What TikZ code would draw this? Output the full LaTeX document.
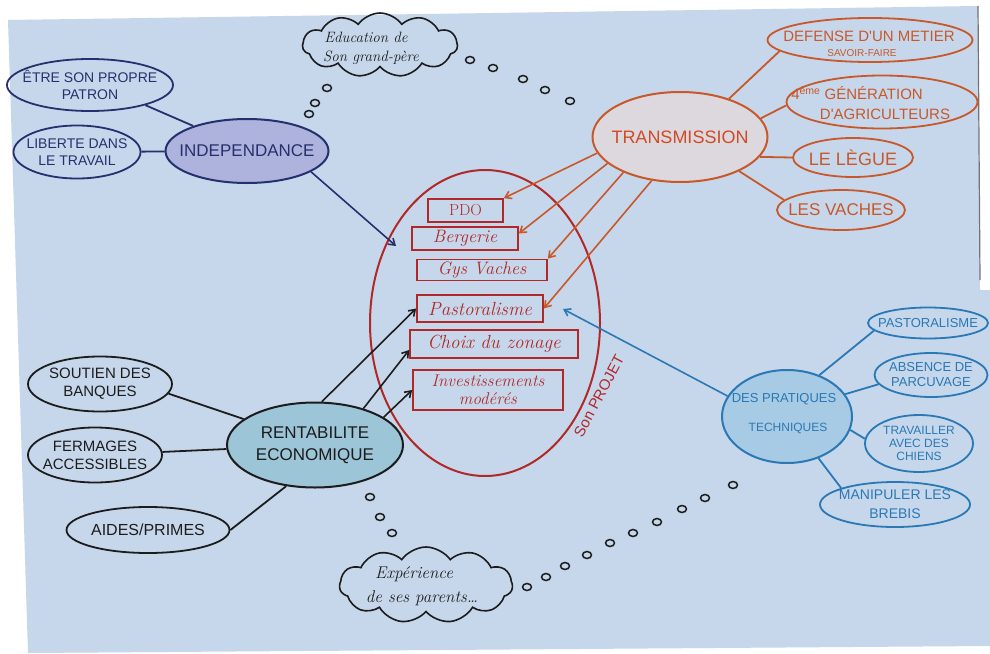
\documentclass[tikz,border=0pt]{standalone}
\usepackage{fontspec}
\newfontfamily\capsf{Liberation Sans}
\usetikzlibrary{shapes.geometric,shapes.symbols,arrows.meta}
\definecolor{paper}{HTML}{C6D7EB}
\definecolor{navy}{HTML}{26306E}
\definecolor{indfill}{HTML}{AEB3DD}
\definecolor{ink}{HTML}{1C1C1C}
\definecolor{rentfill}{HTML}{9DC5D8}
\definecolor{pred}{HTML}{B02828}
\definecolor{orng}{HTML}{C8582A}
\definecolor{transfill}{HTML}{DDD8DE}
\definecolor{tblue}{HTML}{2A78B4}
\definecolor{dpfill}{HTML}{A7CBE4}
\newcommand\fsz[2]{\fontsize{#1}{#2}\selectfont}
\tikzset{
 ell/.style={ellipse, inner sep=0pt, line width=2pt},
 leaf/.style={ellipse, inner sep=0pt, line width=1.8pt},
 lab/.style={inner sep=0pt, align=center},
 rbox/.style={rectangle, draw=pred, line width=1.7pt, inner sep=0pt},
 conn/.style={line width=1.8pt},
 arr/.style={line width=1.6pt, -{Straight Barb[length=6pt,width=8pt]}},
 bub/.style={ellipse, draw=ink, line width=1.5pt, minimum width=9pt, minimum height=7pt, inner sep=0pt},
 cloudn/.style={cloud, cloud puffs=11, cloud puff arc=110, cloud ignores aspect, draw=ink, line width=1.6pt, inner sep=0pt}
}
\begin{document}
\begin{tikzpicture}[x=1pt,y=-1pt]
\useasboundingbox (0,0) rectangle (990,653);
\fill[white] (0,0) rectangle (990,653);
\fill[paper] (8,20) -- (978,6) -- (980,290) -- (990,290) -- (990,646) -- (28,653) -- cycle;
\draw[line width=1.2pt, black!55] (978,6) -- (980,280);

% ---- Son projet ----
\node[ellipse, draw=pred, line width=2pt, minimum width=230pt, minimum height=306pt, inner sep=0pt] (proj) at (485,323) {};
\node[lab, text=pred, font=\capsf\fsz{15}{17}, rotate=62] (projt) at (599,396) {Son PROJET};

\node[rbox, minimum width=75pt, minimum height=23pt] (pdo) at (465.5,210.5) {};
\node[lab, text=pred, font=\fsz{16}{18}] (pdot) at (pdo) {PDO};
\node[rbox, minimum width=106pt, minimum height=23pt] (berg) at (465,238.5) {};
\node[lab, text=pred, font=\itshape\fsz{18}{20}] (bergt) at (berg) {Bergerie};
\node[rbox, minimum width=130pt, minimum height=21pt] (gys) at (482,270) {};
\node[lab, text=pred, font=\itshape\fsz{18}{20}] (gyst) at (gys) {Gys Vaches};
\node[rbox, minimum width=126pt, minimum height=27pt] (past) at (480,308.5) {};
\node[lab, text=pred, font=\itshape\fsz{19}{21}] (pastt) at (past) {Pastoralisme};
\node[rbox, minimum width=168pt, minimum height=28pt] (choix) at (494,344) {};
\node[lab, text=pred, font=\itshape\fsz{19}{21}] (choixt) at (choix) {Choix du zonage};
\node[rbox, minimum width=150pt, minimum height=40pt] (inv) at (488,390) {};
\node[lab, text=pred, font=\itshape\fsz{17}{18}] (invt) at (inv) {Investissements\\modérés};

% ---- Independance ----
\node[ell, draw=navy, fill=indfill, minimum width=163pt, minimum height=64pt] (ind) at (247,151) {};
\node[lab, text=navy, font=\capsf\fsz{17}{19}] (indt) at (ind) {INDEPENDANCE};
\node[leaf, draw=navy, minimum width=166pt, minimum height=52pt] (patron) at (90,85) {};
\node[lab, text=navy, font=\capsf\fsz{14}{17}] (patront) at (patron) {ÊTRE SON PROPRE\\PATRON};
\node[leaf, draw=navy, minimum width=127pt, minimum height=53pt] (lib) at (77,152) {};
\node[lab, text=navy, font=\capsf\fsz{14}{17}] (libt) at (lib) {LIBERTE DANS\\LE TRAVAIL};
\draw[conn, navy] (patron.340) -- (ind.155);
\draw[conn, navy] (lib) -- (ind);
\coordinate (indtip) at (396,246);
\draw[arr, navy] (ind.342) -- (indtip);

% ---- Rentabilite ----
\node[ell, draw=ink, fill=rentfill, minimum width=176pt, minimum height=85pt] (rent) at (315,445) {};
\node[lab, text=ink, font=\capsf\fsz{17}{22}] (rentt) at (rent) {RENTABILITE\\ECONOMIQUE};
\node[leaf, draw=ink, minimum width=144pt, minimum height=55pt] (sout) at (100,384) {};
\node[lab, text=ink, font=\capsf\fsz{15}{18}] (soutt) at (sout) {SOUTIEN DES\\BANQUES};
\node[leaf, draw=ink, minimum width=134pt, minimum height=55pt] (ferm) at (95,455) {};
\node[lab, text=ink, font=\capsf\fsz{15}{18}] (fermt) at (ferm) {FERMAGES\\ACCESSIBLES};
\node[leaf, draw=ink, minimum width=163pt, minimum height=46pt] (aides) at (148,530) {};
\node[lab, text=ink, font=\capsf\fsz{16}{18}] (aidest) at (aides) {AIDES/PRIMES};
\draw[conn, ink] (sout.352) -- (rent.160);
\draw[conn, ink] (ferm) -- (rent);
\draw[conn, ink] (aides.east) -- (rent.235);
\draw[arr, ink] (rent.81) -- (past.west);
\draw[arr, ink] (rent.37) -- ([yshift=-6pt]choix.west);
\draw[arr, ink] (rent.22) -- (inv.west);

% ---- Transmission ----
\node[ell, draw=orng, fill=transfill, minimum width=175pt, minimum height=90pt] (trans) at (680,137) {};
\node[lab, text=orng!85!red, font=\capsf\fsz{18}{20}] (transt) at (trans) {TRANSMISSION};
\node[leaf, draw=orng, minimum width=205pt, minimum height=44pt] (def) at (870,40) {};
\node[lab, text=orng, font=\capsf\fsz{15}{17}] (deft) at (869,36) {DEFENSE D'UN METIER};
\node[lab, text=orng, font=\capsf\fsz{10}{11}] (saft) at (862,53) {SAVOIR-FAIRE};
\node[leaf, draw=orng, minimum width=191pt, minimum height=53pt] (gen) at (882,102) {};
\node[lab, text=orng, font=\capsf\fsz{15}{17}] (gent) at (857,93) {4\textsuperscript{ème} GÉNÉRATION};
\node[lab, text=orng, font=\capsf\fsz{15}{17}] (agrt) at (885,114) {D'AGRICULTEURS};
\node[leaf, draw=orng, minimum width=120pt, minimum height=39pt] (legue) at (853,157.5) {};
\node[lab, text=orng, font=\capsf\fsz{18}{20}] (leguet) at (legue) {LE LÈGUE};
\node[leaf, draw=orng, minimum width=128pt, minimum height=40pt] (vach) at (841,210) {};
\node[lab, text=orng, font=\capsf\fsz{17}{19}] (vacht) at (vach) {LES VACHES};
\draw[conn, orng] (trans.38) -- (def.187);
\draw[conn, orng] (trans.13) -- (gen.182);
\draw[conn, orng] (trans.346) -- (legue.west);
\draw[conn, orng] (trans.330) -- (vach.170);
\draw[arr, orng] (trans.191) -- (pdo.north east);
\draw[arr, orng] (trans.200) -- ([yshift=5pt]berg.east);
\draw[arr, orng] (trans.212) -- (gys.north east);
\draw[arr, orng] (trans.237) -- (past.east);

% ---- Des pratiques techniques ----
\node[ell, draw=tblue, fill=dpfill, minimum width=130pt, minimum height=93pt] (dp) at (787,416.5) {};
\node[lab, text=tblue, font=\capsf\fsz{13}{15}] (dpt1) at (784,399) {DES PRATIQUES};
\node[lab, text=tblue, font=\capsf\fsz{12}{14}] (dpt2) at (788,428) {TECHNIQUES};
\node[leaf, draw=tblue, minimum width=120pt, minimum height=31pt] (p2) at (928,323) {};
\node[lab, text=tblue, font=\capsf\fsz{13}{15}] (p2t) at (p2) {PASTORALISME};
\node[leaf, draw=tblue, minimum width=113pt, minimum height=44pt] (abs) at (931,375) {};
\node[lab, text=tblue, font=\capsf\fsz{13}{15}] (abst) at (abs) {ABSENCE DE\\PARCUVAGE};
\node[leaf, draw=tblue, minimum width=108pt, minimum height=57pt] (trav) at (919,443.5) {};
\node[lab, text=tblue, font=\capsf\fsz{12}{13}] (travt) at (trav) {TRAVAILLER\\AVEC DES\\CHIENS};
\node[leaf, draw=tblue, minimum width=150pt, minimum height=45pt] (man) at (895,504.5) {};
\node[lab, text=tblue, font=\capsf\fsz{14}{19}] (mant) at (man) {MANIPULER LES\\BREBIS};
\draw[conn, tblue] (dp.52) -- (p2.188);
\draw[conn, tblue] (dp.21) -- (abs.190);
\draw[conn, tblue] (dp.348) -- (trav.175);
\draw[conn, tblue] (dp.307) -- (man.163);
\coordinate (dptip) at (563,309);
\draw[arr, tblue] (dp.161) -- (dptip);

% ---- Clouds ----
\node[cloudn, minimum width=155pt, minimum height=64pt] (edc) at (380,45) {};
\node[lab, text=ink, font=\itshape\fsz{15}{17}] (edt1) at (366,37) {Education de};
\node[lab, text=ink, font=\itshape\fsz{15}{17}] (edt2) at (371,58) {Son grand-père};
\node[cloudn, minimum width=173pt, minimum height=76pt] (exc) at (426,585) {};
\node[lab, text=ink, font=\itshape\fsz{17}{19}] (ext1) at (414,574) {Expérience};
\node[lab, text=ink, font=\itshape\fsz{17}{19}] (ext2) at (422,598) {de ses parents\dots};

\foreach \p [count=\i] in {(327,88),(315,103),(309,114)} \node[bub] (ba\i) at \p {};
\foreach \p [count=\i] in {(470,60),(493,68),(523,79),(545,90),(570,101)} \node[bub] (bb\i) at \p {};
\foreach \p [count=\i] in {(370,497),(380,517),(392,533)} \node[bub] (bc\i) at \p {};
\foreach \p [count=\i] in {(527,587),(546,577),(565,566),(587,555),(610,543),(633,533),(657,522),(682,509),(705,498),(733,485)} \node[bub] (bd\i) at \p {};
\end{tikzpicture}
\end{document}
